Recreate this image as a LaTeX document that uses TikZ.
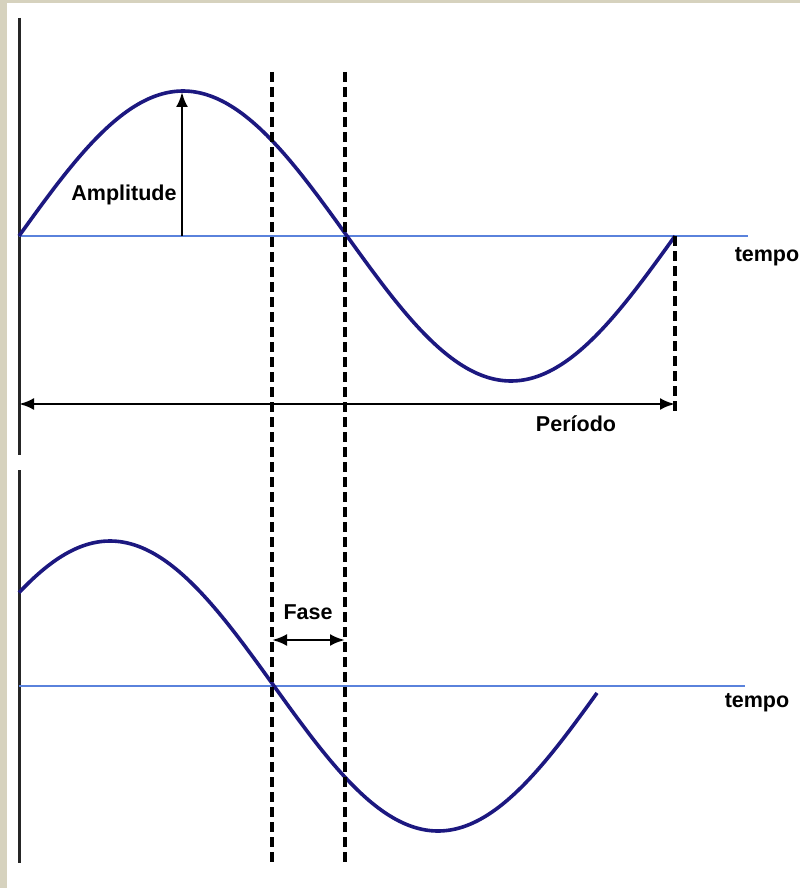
\documentclass[tikz,border=0pt]{standalone}
\usepackage{fontspec}
\setmainfont{Liberation Sans}
\usetikzlibrary{arrows.meta}

\definecolor{wavecol}{RGB}{28,24,128}
\definecolor{basecol}{RGB}{90,130,220}
\definecolor{framecol}{RGB}{214,210,190}

\tikzset{
  wave/.style={line width=3.6pt, color=wavecol},
  baseline/.style={line width=2.4pt, color=basecol},
  axis/.style={line width=3pt, black!85},
  guide/.style={line width=3.2pt, black, dash pattern=on 10pt off 5pt},
  dim/.style={line width=2.8pt, black, {Latex[length=15pt,width=12pt]}-{Latex[length=15pt,width=12pt]}},
  lbl/.style={font=\fontsize{21.5}{25}\selectfont\bfseries, inner sep=0pt}
}

\begin{document}
\begin{tikzpicture}[x=1pt, y=-1pt]
  % frame
  \fill[framecol] (0,0) rectangle (800,888);
  \fill[white] (7,3) rectangle (800,888);
  \useasboundingbox (0,0) rectangle (800,888);

  % key points
  \coordinate (axTop) at (19,18);
  \coordinate (axMid) at (19,455);
  \coordinate (axLow) at (19,470);
  \coordinate (axEnd) at (19,863);
  \coordinate (zeroA) at (19,236);
  \coordinate (endA) at (748,236);
  \coordinate (zeroB) at (19,686);
  \coordinate (endB) at (745,686);
  \coordinate (peakFoot) at (182,236);
  \coordinate (peak) at (182,92);
  \coordinate (shiftTop) at (272,72);
  \coordinate (shiftEnd) at (272,862);
  \coordinate (crossTop) at (345,72);
  \coordinate (crossEnd) at (345,865);
  \coordinate (perEnd) at (675,236);
  \coordinate (perLow) at (675,412);
  \coordinate (perL) at (19,404);
  \coordinate (perR) at (675,404);
  \coordinate (faseL) at (272,640);
  \coordinate (faseR) at (345,640);

  % axes
  \draw[axis] (axTop) -- (axMid);
  \draw[axis] (axLow) -- (axEnd);
  \draw[baseline] (zeroA) -- (endA);
  \draw[baseline] (zeroB) -- (endB);

  % upper wave
  \draw[wave] plot[domain=19:675, samples=120, smooth] (\x, {236 - 145*sin((\x-19)/656*360)});
  % lower wave, shifted
  \draw[wave] plot[domain=19:597, samples=120, smooth] (\x, {686 - 145*sin((\x+54)/656*360)});

  % guides
  \draw[guide] (shiftTop) -- (shiftEnd);
  \draw[guide] (crossTop) -- (crossEnd);
  \draw[guide] (perEnd) -- (perLow);

  % dimensions
  \draw[line width=2.8pt, -{Latex[length=15pt,width=12pt]}] (peakFoot) -- (peak);
  \draw[dim] (perL) -- (perR);
  \draw[dim] (faseL) -- (faseR);

  % labels
  \node[lbl] (ampLbl) at (124,195) {Amplitude};
  \node[lbl] (perLbl) at (576,424) {Período};
  \node[lbl] (faseLbl) at (308,612) {Fase};
  \node[lbl] (tempoA) at (767,257) {tempo};
  \node[lbl] (tempoB) at (757,703) {tempo};
\end{tikzpicture}
\end{document}
